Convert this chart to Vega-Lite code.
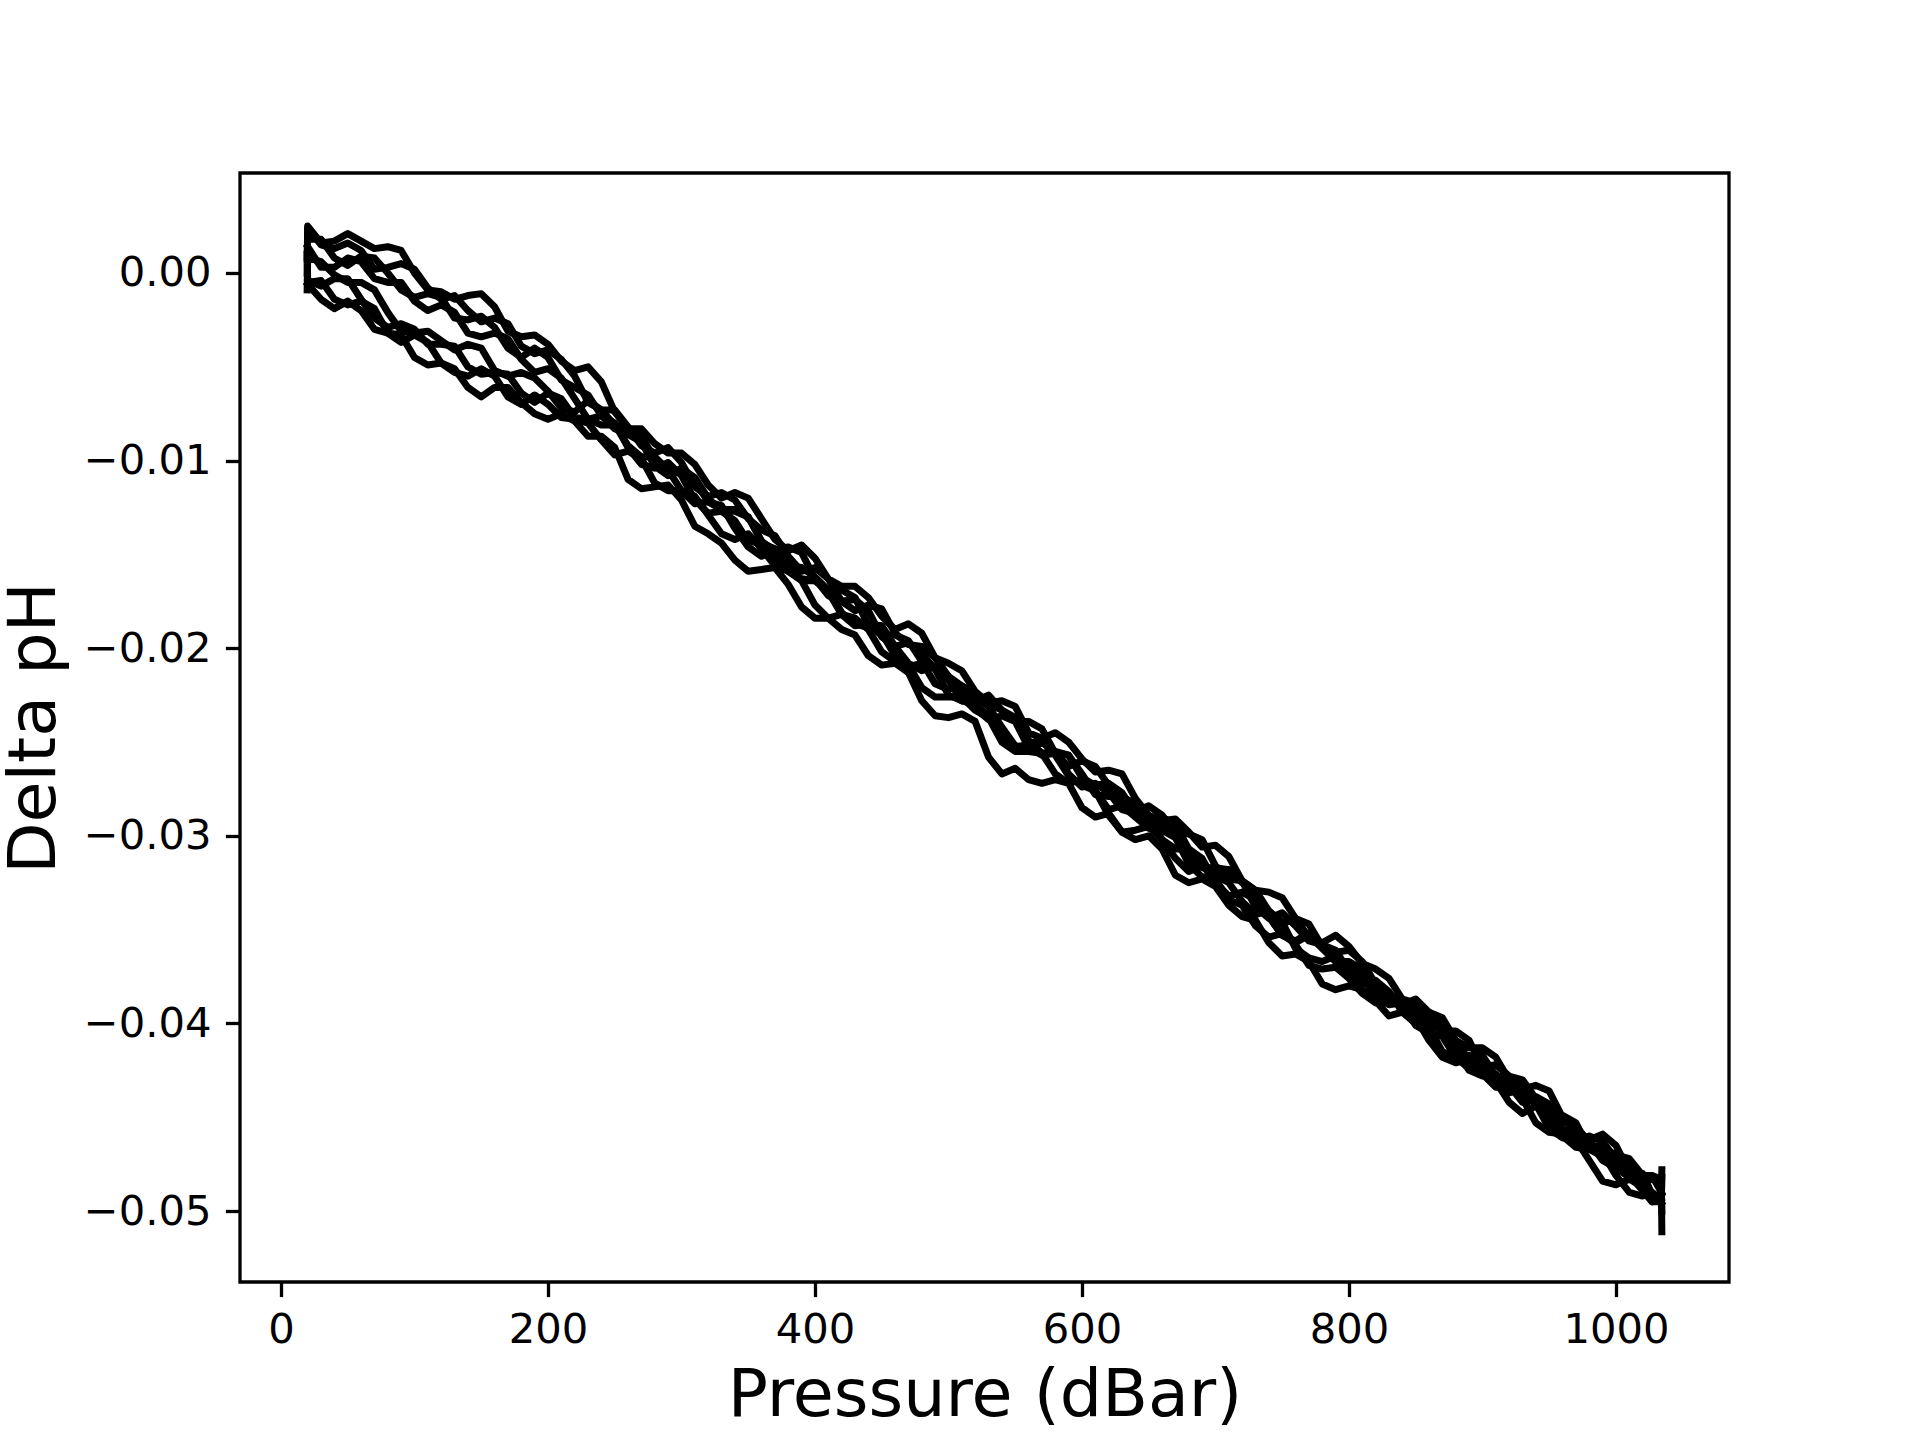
{
  "$schema": "https://vega.github.io/schema/vega-lite/v6.json",
  "width": 1489,
  "height": 1109,
  "autosize": {"type": "none"},
  "padding": {"left": 240, "top": 173, "right": 191, "bottom": 158},
  "background": "white",
  "data": {
    "values": [
      {"s":1,"p":19.6,"d":0.0},
      {"s":1,"p":20,"d":0.0025},{"s":1,"p":40,"d":0.0017},{"s":1,"p":60,"d":0.0017},{"s":1,"p":80,"d":0.0014},{"s":1,"p":100,"d":0.0},{"s":1,"p":120,"d":-0.001},{"s":1,"p":140,"d":-0.0012},{"s":1,"p":160,"d":-0.0018},{"s":1,"p":180,"d":-0.0034},{"s":1,"p":200,"d":-0.0038},{"s":1,"p":220,"d":-0.0052},{"s":1,"p":240,"d":-0.0058},{"s":1,"p":260,"d":-0.0083},{"s":1,"p":280,"d":-0.0091},{"s":1,"p":300,"d":-0.0096},{"s":1,"p":320,"d":-0.0113},{"s":1,"p":340,"d":-0.0117},{"s":1,"p":360,"d":-0.0131},{"s":1,"p":380,"d":-0.0148},{"s":1,"p":400,"d":-0.0152},{"s":1,"p":420,"d":-0.0167},{"s":1,"p":440,"d":-0.0173},{"s":1,"p":460,"d":-0.019},{"s":1,"p":480,"d":-0.0192},{"s":1,"p":500,"d":-0.0208},{"s":1,"p":520,"d":-0.0223},{"s":1,"p":540,"d":-0.0228},{"s":1,"p":560,"d":-0.0245},{"s":1,"p":580,"d":-0.0245},{"s":1,"p":600,"d":-0.0259},{"s":1,"p":620,"d":-0.0265},{"s":1,"p":640,"d":-0.028},{"s":1,"p":660,"d":-0.0292},{"s":1,"p":680,"d":-0.0298},{"s":1,"p":700,"d":-0.0305},{"s":1,"p":720,"d":-0.0324},{"s":1,"p":740,"d":-0.033},{"s":1,"p":760,"d":-0.0344},{"s":1,"p":780,"d":-0.0357},{"s":1,"p":800,"d":-0.0359},{"s":1,"p":820,"d":-0.0371},{"s":1,"p":840,"d":-0.0387},{"s":1,"p":860,"d":-0.0394},{"s":1,"p":880,"d":-0.0409},{"s":1,"p":900,"d":-0.0413},{"s":1,"p":920,"d":-0.043},{"s":1,"p":940,"d":-0.0433},{"s":1,"p":960,"d":-0.045},{"s":1,"p":980,"d":-0.0462},{"s":1,"p":1000,"d":-0.0465},{"s":1,"p":1020,"d":-0.0483},{"s":1,"p":1034,"d":-0.0483},
      {"s":1,"p":1034.4,"d":-0.0511},
      {"s":2,"p":19.6,"d":0.0008},
      {"s":2,"p":20,"d":0.0024},{"s":2,"p":40,"d":0.0013},{"s":2,"p":60,"d":0.0012},{"s":2,"p":80,"d":0.0003},{"s":2,"p":100,"d":0.0002},{"s":2,"p":120,"d":-0.0014},{"s":2,"p":140,"d":-0.002},{"s":2,"p":160,"d":-0.0024},{"s":2,"p":180,"d":-0.0039},{"s":2,"p":200,"d":-0.0041},{"s":2,"p":220,"d":-0.0055},{"s":2,"p":240,"d":-0.0073},{"s":2,"p":260,"d":-0.0082},{"s":2,"p":280,"d":-0.0096},{"s":2,"p":300,"d":-0.0101},{"s":2,"p":320,"d":-0.0119},{"s":2,"p":340,"d":-0.0121},{"s":2,"p":360,"d":-0.0137},{"s":2,"p":380,"d":-0.0151},{"s":2,"p":400,"d":-0.0157},{"s":2,"p":420,"d":-0.0175},{"s":2,"p":440,"d":-0.0177},{"s":2,"p":460,"d":-0.0192},{"s":2,"p":480,"d":-0.0199},{"s":2,"p":500,"d":-0.0215},{"s":2,"p":520,"d":-0.0228},{"s":2,"p":540,"d":-0.0233},{"s":2,"p":560,"d":-0.0239},{"s":2,"p":580,"d":-0.0256},{"s":2,"p":600,"d":-0.026},{"s":2,"p":620,"d":-0.0273},{"s":2,"p":640,"d":-0.0287},{"s":2,"p":660,"d":-0.0289},{"s":2,"p":680,"d":-0.0299},{"s":2,"p":700,"d":-0.0316},{"s":2,"p":720,"d":-0.0324},{"s":2,"p":740,"d":-0.034},{"s":2,"p":760,"d":-0.0344},{"s":2,"p":780,"d":-0.0359},{"s":2,"p":800,"d":-0.0361},{"s":2,"p":820,"d":-0.0379},{"s":2,"p":840,"d":-0.039},{"s":2,"p":860,"d":-0.0394},{"s":2,"p":880,"d":-0.0413},{"s":2,"p":900,"d":-0.0417},{"s":2,"p":920,"d":-0.0429},{"s":2,"p":940,"d":-0.0444},{"s":2,"p":960,"d":-0.0449},{"s":2,"p":980,"d":-0.0467},{"s":2,"p":1000,"d":-0.047},{"s":2,"p":1020,"d":-0.0481},{"s":2,"p":1034,"d":-0.049},
      {"s":3,"p":20,"d":0.0018},{"s":3,"p":40,"d":0.0008},{"s":3,"p":60,"d":0.0009},{"s":3,"p":80,"d":0.0},{"s":3,"p":100,"d":-0.0013},{"s":3,"p":120,"d":-0.0013},{"s":3,"p":140,"d":-0.0025},{"s":3,"p":160,"d":-0.0029},{"s":3,"p":180,"d":-0.0045},{"s":3,"p":200,"d":-0.0045},{"s":3,"p":220,"d":-0.0061},{"s":3,"p":240,"d":-0.0076},{"s":3,"p":260,"d":-0.0086},{"s":3,"p":280,"d":-0.0103},{"s":3,"p":300,"d":-0.0104},{"s":3,"p":320,"d":-0.012},{"s":3,"p":340,"d":-0.0127},{"s":3,"p":360,"d":-0.0143},{"s":3,"p":380,"d":-0.0156},{"s":3,"p":400,"d":-0.0162},{"s":3,"p":420,"d":-0.0169},{"s":3,"p":440,"d":-0.0188},{"s":3,"p":460,"d":-0.0193},{"s":3,"p":480,"d":-0.0207},{"s":3,"p":500,"d":-0.0222},{"s":3,"p":520,"d":-0.0224},{"s":3,"p":540,"d":-0.0233},{"s":3,"p":560,"d":-0.0249},{"s":3,"p":580,"d":-0.0255},{"s":3,"p":600,"d":-0.0269},{"s":3,"p":620,"d":-0.0272},{"s":3,"p":640,"d":-0.0288},{"s":3,"p":660,"d":-0.029},{"s":3,"p":680,"d":-0.0307},{"s":3,"p":700,"d":-0.0319},{"s":3,"p":720,"d":-0.0324},{"s":3,"p":740,"d":-0.0344},{"s":3,"p":760,"d":-0.0348},{"s":3,"p":780,"d":-0.0358},{"s":3,"p":800,"d":-0.0372},{"s":3,"p":820,"d":-0.0377},{"s":3,"p":840,"d":-0.0394},{"s":3,"p":860,"d":-0.0398},{"s":3,"p":880,"d":-0.041},{"s":3,"p":900,"d":-0.0423},{"s":3,"p":920,"d":-0.0428},{"s":3,"p":940,"d":-0.044},{"s":3,"p":960,"d":-0.0458},{"s":3,"p":980,"d":-0.0463},{"s":3,"p":1000,"d":-0.0469},{"s":3,"p":1020,"d":-0.0485},{"s":3,"p":1034,"d":-0.0495},
      {"s":3,"p":1034.4,"d":-0.0478},
      {"s":4,"p":20,"d":0.0014},{"s":4,"p":40,"d":0.0003},{"s":4,"p":60,"d":0.0006},{"s":4,"p":80,"d":-0.0005},{"s":4,"p":100,"d":-0.0015},{"s":4,"p":120,"d":-0.0017},{"s":4,"p":140,"d":-0.0032},{"s":4,"p":160,"d":-0.0032},{"s":4,"p":180,"d":-0.0046},{"s":4,"p":200,"d":-0.0051},{"s":4,"p":220,"d":-0.0067},{"s":4,"p":240,"d":-0.0081},{"s":4,"p":260,"d":-0.0092},{"s":4,"p":280,"d":-0.0098},{"s":4,"p":300,"d":-0.0116},{"s":4,"p":320,"d":-0.0122},{"s":4,"p":340,"d":-0.0136},{"s":4,"p":360,"d":-0.0151},{"s":4,"p":380,"d":-0.0154},{"s":4,"p":400,"d":-0.0164},{"s":4,"p":420,"d":-0.0181},{"s":4,"p":440,"d":-0.0189},{"s":4,"p":460,"d":-0.0204},{"s":4,"p":480,"d":-0.0208},{"s":4,"p":500,"d":-0.0225},{"s":4,"p":520,"d":-0.0226},{"s":4,"p":540,"d":-0.0242},{"s":4,"p":560,"d":-0.0253},{"s":4,"p":580,"d":-0.0256},{"s":4,"p":600,"d":-0.0274},{"s":4,"p":620,"d":-0.0277},{"s":4,"p":640,"d":-0.0288},{"s":4,"p":660,"d":-0.0302},{"s":4,"p":680,"d":-0.0307},{"s":4,"p":700,"d":-0.0325},{"s":4,"p":720,"d":-0.033},{"s":4,"p":740,"d":-0.0343},{"s":4,"p":760,"d":-0.0356},{"s":4,"p":780,"d":-0.0359},{"s":4,"p":800,"d":-0.037},{"s":4,"p":820,"d":-0.0386},{"s":4,"p":840,"d":-0.039},{"s":4,"p":860,"d":-0.0397},{"s":4,"p":880,"d":-0.0414},{"s":4,"p":900,"d":-0.0428},{"s":4,"p":920,"d":-0.0433},{"s":4,"p":940,"d":-0.0441},{"s":4,"p":960,"d":-0.0459},{"s":4,"p":980,"d":-0.0465},{"s":4,"p":1000,"d":-0.0477},{"s":4,"p":1020,"d":-0.048},{"s":4,"p":1034,"d":-0.0496},
      {"s":5,"p":19.6,"d":-0.0009},
      {"s":5,"p":20,"d":0.0008},{"s":5,"p":40,"d":-0.0001},{"s":5,"p":60,"d":-0.0005},{"s":5,"p":80,"d":-0.0021},{"s":5,"p":100,"d":-0.0032},{"s":5,"p":120,"d":-0.0036},{"s":5,"p":140,"d":-0.0038},{"s":5,"p":160,"d":-0.0052},{"s":5,"p":180,"d":-0.0053},{"s":5,"p":200,"d":-0.0063},{"s":5,"p":220,"d":-0.0074},{"s":5,"p":240,"d":-0.0073},{"s":5,"p":260,"d":-0.0083},{"s":5,"p":280,"d":-0.0099},{"s":5,"p":300,"d":-0.0106},{"s":5,"p":320,"d":-0.0122},{"s":5,"p":340,"d":-0.0126},{"s":5,"p":360,"d":-0.0143},{"s":5,"p":380,"d":-0.0146},{"s":5,"p":400,"d":-0.0163},{"s":5,"p":420,"d":-0.0175},{"s":5,"p":440,"d":-0.018},{"s":5,"p":460,"d":-0.0199},{"s":5,"p":480,"d":-0.0203},{"s":5,"p":500,"d":-0.0215},{"s":5,"p":520,"d":-0.0232},{"s":5,"p":540,"d":-0.0236},{"s":5,"p":560,"d":-0.0253},{"s":5,"p":580,"d":-0.0256},{"s":5,"p":600,"d":-0.0267},{"s":5,"p":620,"d":-0.0279},{"s":5,"p":640,"d":-0.0283},{"s":5,"p":660,"d":-0.0294},{"s":5,"p":680,"d":-0.0312},{"s":5,"p":700,"d":-0.0317},{"s":5,"p":720,"d":-0.0325},{"s":5,"p":740,"d":-0.0343},{"s":5,"p":760,"d":-0.0357},{"s":5,"p":780,"d":-0.036},{"s":5,"p":800,"d":-0.0367},{"s":5,"p":820,"d":-0.0382},{"s":5,"p":840,"d":-0.0387},{"s":5,"p":860,"d":-0.04},{"s":5,"p":880,"d":-0.0404},{"s":5,"p":900,"d":-0.0424},{"s":5,"p":920,"d":-0.0433},{"s":5,"p":940,"d":-0.0439},{"s":5,"p":960,"d":-0.0456},{"s":5,"p":980,"d":-0.046},{"s":5,"p":1000,"d":-0.0472},{"s":5,"p":1020,"d":-0.0487},{"s":5,"p":1034,"d":-0.0487},
      {"s":5,"p":1034.4,"d":-0.05},
      {"s":6,"p":19.6,"d":0.001},
      {"s":6,"p":20,"d":-0.0004},{"s":6,"p":40,"d":-0.0003},{"s":6,"p":60,"d":-0.0014},{"s":6,"p":80,"d":-0.0029},{"s":6,"p":100,"d":-0.003},{"s":6,"p":120,"d":-0.0038},{"s":6,"p":140,"d":-0.005},{"s":6,"p":160,"d":-0.0053},{"s":6,"p":180,"d":-0.0064},{"s":6,"p":200,"d":-0.0064},{"s":6,"p":220,"d":-0.0077},{"s":6,"p":240,"d":-0.0076},{"s":6,"p":260,"d":-0.0093},{"s":6,"p":280,"d":-0.0104},{"s":6,"p":300,"d":-0.0108},{"s":6,"p":320,"d":-0.0128},{"s":6,"p":340,"d":-0.0132},{"s":6,"p":360,"d":-0.0144},{"s":6,"p":380,"d":-0.0159},{"s":6,"p":400,"d":-0.0164},{"s":6,"p":420,"d":-0.0182},{"s":6,"p":440,"d":-0.0187},{"s":6,"p":460,"d":-0.0199},{"s":6,"p":480,"d":-0.0212},{"s":6,"p":500,"d":-0.0217},{"s":6,"p":520,"d":-0.023},{"s":6,"p":540,"d":-0.0247},{"s":6,"p":560,"d":-0.0251},{"s":6,"p":580,"d":-0.0257},{"s":6,"p":600,"d":-0.0273},{"s":6,"p":620,"d":-0.0286},{"s":6,"p":640,"d":-0.029},{"s":6,"p":660,"d":-0.0297},{"s":6,"p":680,"d":-0.0315},{"s":6,"p":700,"d":-0.0321},{"s":6,"p":720,"d":-0.0335},{"s":6,"p":740,"d":-0.034},{"s":6,"p":760,"d":-0.036},{"s":6,"p":780,"d":-0.0367},{"s":6,"p":800,"d":-0.0372},{"s":6,"p":820,"d":-0.0386},{"s":6,"p":840,"d":-0.0389},{"s":6,"p":860,"d":-0.0402},{"s":6,"p":880,"d":-0.0418},{"s":6,"p":900,"d":-0.0422},{"s":6,"p":920,"d":-0.0437},{"s":6,"p":940,"d":-0.0443},{"s":6,"p":960,"d":-0.0461},{"s":6,"p":980,"d":-0.0463},{"s":6,"p":1000,"d":-0.0477},{"s":6,"p":1020,"d":-0.0489},{"s":6,"p":1034,"d":-0.0491},
      {"s":7,"p":20,"d":-0.0005},{"s":7,"p":40,"d":-0.0014},{"s":7,"p":60,"d":-0.0015},{"s":7,"p":80,"d":-0.0032},{"s":7,"p":100,"d":-0.0033},{"s":7,"p":120,"d":-0.0048},{"s":7,"p":140,"d":-0.0055},{"s":7,"p":160,"d":-0.0055},{"s":7,"p":180,"d":-0.007},{"s":7,"p":200,"d":-0.007},{"s":7,"p":220,"d":-0.0078},{"s":7,"p":240,"d":-0.0089},{"s":7,"p":260,"d":-0.0095},{"s":7,"p":280,"d":-0.0112},{"s":7,"p":300,"d":-0.0116},{"s":7,"p":320,"d":-0.0129},{"s":7,"p":340,"d":-0.0142},{"s":7,"p":360,"d":-0.0147},{"s":7,"p":380,"d":-0.0159},{"s":7,"p":400,"d":-0.0177},{"s":7,"p":420,"d":-0.0182},{"s":7,"p":440,"d":-0.019},{"s":7,"p":460,"d":-0.0207},{"s":7,"p":480,"d":-0.0221},{"s":7,"p":500,"d":-0.0226},{"s":7,"p":520,"d":-0.0233},{"s":7,"p":540,"d":-0.025},{"s":7,"p":560,"d":-0.0255},{"s":7,"p":580,"d":-0.0267},{"s":7,"p":600,"d":-0.027},{"s":7,"p":620,"d":-0.0289},{"s":7,"p":640,"d":-0.0297},{"s":7,"p":660,"d":-0.0302},{"s":7,"p":680,"d":-0.0319},{"s":7,"p":700,"d":-0.0323},{"s":7,"p":720,"d":-0.0337},{"s":7,"p":740,"d":-0.0354},{"s":7,"p":760,"d":-0.0358},{"s":7,"p":780,"d":-0.0371},{"s":7,"p":800,"d":-0.0376},{"s":7,"p":820,"d":-0.0389},{"s":7,"p":840,"d":-0.039},{"s":7,"p":860,"d":-0.0405},{"s":7,"p":880,"d":-0.0418},{"s":7,"p":900,"d":-0.0424},{"s":7,"p":920,"d":-0.0442},{"s":7,"p":940,"d":-0.0444},{"s":7,"p":960,"d":-0.046},{"s":7,"p":980,"d":-0.0467},{"s":7,"p":1000,"d":-0.0481},{"s":7,"p":1020,"d":-0.0492},{"s":7,"p":1034,"d":-0.0494},
      {"s":7,"p":1034.4,"d":-0.0482},
      {"s":8,"p":20,"d":-0.0006},{"s":8,"p":40,"d":-0.0019},{"s":8,"p":60,"d":-0.002},{"s":8,"p":80,"d":-0.0032},{"s":8,"p":100,"d":-0.0045},{"s":8,"p":120,"d":-0.0048},{"s":8,"p":140,"d":-0.0061},{"s":8,"p":160,"d":-0.0061},{"s":8,"p":180,"d":-0.0069},{"s":8,"p":200,"d":-0.0078},{"s":8,"p":220,"d":-0.0079},{"s":8,"p":240,"d":-0.0087},{"s":8,"p":260,"d":-0.011},{"s":8,"p":280,"d":-0.0114},{"s":8,"p":300,"d":-0.0121},{"s":8,"p":320,"d":-0.0139},{"s":8,"p":340,"d":-0.0153},{"s":8,"p":360,"d":-0.0158},{"s":8,"p":380,"d":-0.0166},{"s":8,"p":400,"d":-0.0184},{"s":8,"p":420,"d":-0.019},{"s":8,"p":440,"d":-0.0204},{"s":8,"p":460,"d":-0.0208},{"s":8,"p":480,"d":-0.0228},{"s":8,"p":500,"d":-0.0237},{"s":8,"p":520,"d":-0.0239},{"s":8,"p":540,"d":-0.0267},{"s":8,"p":560,"d":-0.027},{"s":8,"p":580,"d":-0.027},{"s":8,"p":600,"d":-0.0285},{"s":8,"p":620,"d":-0.0288},{"s":8,"p":640,"d":-0.0302},{"s":8,"p":660,"d":-0.0307},{"s":8,"p":680,"d":-0.0325},{"s":8,"p":700,"d":-0.0327},{"s":8,"p":720,"d":-0.0343},{"s":8,"p":740,"d":-0.0357},{"s":8,"p":760,"d":-0.0363},{"s":8,"p":780,"d":-0.0379},{"s":8,"p":800,"d":-0.038},{"s":8,"p":820,"d":-0.0388},{"s":8,"p":840,"d":-0.0394},{"s":8,"p":860,"d":-0.0409},{"s":8,"p":880,"d":-0.0421},{"s":8,"p":900,"d":-0.0427},{"s":8,"p":920,"d":-0.0434},{"s":8,"p":940,"d":-0.0453},{"s":8,"p":960,"d":-0.0459},{"s":8,"p":980,"d":-0.0473},{"s":8,"p":1000,"d":-0.0486},{"s":8,"p":1020,"d":-0.0487},{"s":8,"p":1034,"d":-0.0493},
      {"s":1,"p":30,"d":0.0016},{"s":1,"p":50,"d":0.0021},{"s":1,"p":70,"d":0.0013},{"s":1,"p":90,"d":0.0012},{"s":1,"p":110,"d":-0.0009},{"s":1,"p":130,"d":-0.0014},{"s":1,"p":150,"d":-0.0011},{"s":1,"p":170,"d":-0.0031},{"s":1,"p":190,"d":-0.0033},{"s":1,"p":210,"d":-0.0047},{"s":1,"p":230,"d":-0.005},{"s":1,"p":250,"d":-0.0074},{"s":1,"p":270,"d":-0.0083},{"s":1,"p":290,"d":-0.0096},{"s":1,"p":310,"d":-0.0102},{"s":1,"p":330,"d":-0.012},{"s":1,"p":350,"d":-0.012},{"s":1,"p":370,"d":-0.0142},{"s":1,"p":390,"d":-0.0145},{"s":1,"p":410,"d":-0.0163},{"s":1,"p":430,"d":-0.0167},{"s":1,"p":450,"d":-0.0183},{"s":1,"p":470,"d":-0.0187},{"s":1,"p":490,"d":-0.0205},{"s":1,"p":510,"d":-0.0212},{"s":1,"p":530,"d":-0.0229},{"s":1,"p":550,"d":-0.0231},{"s":1,"p":570,"d":-0.0248},{"s":1,"p":590,"d":-0.025},{"s":1,"p":610,"d":-0.0266},{"s":1,"p":630,"d":-0.0267},{"s":1,"p":650,"d":-0.0289},{"s":1,"p":670,"d":-0.0291},{"s":1,"p":690,"d":-0.0306},{"s":1,"p":710,"d":-0.0311},{"s":1,"p":730,"d":-0.0329},{"s":1,"p":750,"d":-0.0333},{"s":1,"p":770,"d":-0.0354},{"s":1,"p":790,"d":-0.0353},{"s":1,"p":810,"d":-0.0368},{"s":1,"p":830,"d":-0.0376},{"s":1,"p":850,"d":-0.0395},{"s":1,"p":870,"d":-0.0397},{"s":1,"p":890,"d":-0.0413},{"s":1,"p":910,"d":-0.0418},{"s":1,"p":930,"d":-0.0435},{"s":1,"p":950,"d":-0.0436},{"s":1,"p":970,"d":-0.0459},{"s":1,"p":990,"d":-0.0459},{"s":1,"p":1010,"d":-0.0479},{"s":1,"p":1027,"d":-0.0481},
      {"s":2,"p":30,"d":0.0015},{"s":2,"p":50,"d":0.0016},{"s":2,"p":70,"d":0.0002},{"s":2,"p":90,"d":0.0005},{"s":2,"p":110,"d":-0.0008},{"s":2,"p":130,"d":-0.0012},{"s":2,"p":150,"d":-0.0026},{"s":2,"p":170,"d":-0.0027},{"s":2,"p":190,"d":-0.0043},{"s":2,"p":210,"d":-0.0046},{"s":2,"p":230,"d":-0.0069},{"s":2,"p":250,"d":-0.0073},{"s":2,"p":270,"d":-0.0092},{"s":2,"p":290,"d":-0.0093},{"s":2,"p":310,"d":-0.0114},{"s":2,"p":330,"d":-0.0117},{"s":2,"p":350,"d":-0.0131},{"s":2,"p":370,"d":-0.014},{"s":2,"p":390,"d":-0.0159},{"s":2,"p":410,"d":-0.0163},{"s":2,"p":430,"d":-0.018},{"s":2,"p":450,"d":-0.0179},{"s":2,"p":470,"d":-0.0198},{"s":2,"p":490,"d":-0.0205},{"s":2,"p":510,"d":-0.0225},{"s":2,"p":530,"d":-0.0225},{"s":2,"p":550,"d":-0.0239},{"s":2,"p":570,"d":-0.0243},{"s":2,"p":590,"d":-0.0263},{"s":2,"p":610,"d":-0.0263},{"s":2,"p":630,"d":-0.0282},{"s":2,"p":650,"d":-0.0284},{"s":2,"p":670,"d":-0.0298},{"s":2,"p":690,"d":-0.0302},{"s":2,"p":710,"d":-0.0323},{"s":2,"p":730,"d":-0.0329},{"s":2,"p":750,"d":-0.0347},{"s":2,"p":770,"d":-0.0347},{"s":2,"p":790,"d":-0.0362},{"s":2,"p":810,"d":-0.0367},{"s":2,"p":830,"d":-0.0388},{"s":2,"p":850,"d":-0.0387},{"s":2,"p":870,"d":-0.0406},{"s":2,"p":890,"d":-0.0411},{"s":2,"p":910,"d":-0.0428},{"s":2,"p":930,"d":-0.0434},{"s":2,"p":950,"d":-0.045},{"s":2,"p":970,"d":-0.0453},{"s":2,"p":990,"d":-0.0471},{"s":2,"p":1010,"d":-0.0472},{"s":2,"p":1027,"d":-0.0481},
      {"s":3,"p":30,"d":0.0018},{"s":3,"p":50,"d":0.0004},{"s":3,"p":70,"d":0.0008},{"s":3,"p":90,"d":-0.0009},{"s":3,"p":110,"d":-0.0011},{"s":3,"p":130,"d":-0.0024},{"s":3,"p":150,"d":-0.0023},{"s":3,"p":170,"d":-0.004},{"s":3,"p":190,"d":-0.004},{"s":3,"p":210,"d":-0.0057},{"s":3,"p":230,"d":-0.0065},{"s":3,"p":250,"d":-0.0083},{"s":3,"p":270,"d":-0.009},{"s":3,"p":290,"d":-0.0108},{"s":3,"p":310,"d":-0.0109},{"s":3,"p":330,"d":-0.0127},{"s":3,"p":350,"d":-0.013},{"s":3,"p":370,"d":-0.0152},{"s":3,"p":390,"d":-0.0157},{"s":3,"p":410,"d":-0.0169},{"s":3,"p":430,"d":-0.0173},{"s":3,"p":450,"d":-0.0193},{"s":3,"p":470,"d":-0.0196},{"s":3,"p":490,"d":-0.0219},{"s":3,"p":510,"d":-0.022},{"s":3,"p":530,"d":-0.023},{"s":3,"p":550,"d":-0.0237},{"s":3,"p":570,"d":-0.0256},{"s":3,"p":590,"d":-0.0257},{"s":3,"p":610,"d":-0.0273},{"s":3,"p":630,"d":-0.0277},{"s":3,"p":650,"d":-0.0294},{"s":3,"p":670,"d":-0.0294},{"s":3,"p":690,"d":-0.0315},{"s":3,"p":710,"d":-0.0318},{"s":3,"p":730,"d":-0.0338},{"s":3,"p":750,"d":-0.0341},{"s":3,"p":770,"d":-0.0356},{"s":3,"p":790,"d":-0.0361},{"s":3,"p":810,"d":-0.0379},{"s":3,"p":830,"d":-0.0383},{"s":3,"p":850,"d":-0.04},{"s":3,"p":870,"d":-0.0399},{"s":3,"p":890,"d":-0.0419},{"s":3,"p":910,"d":-0.0422},{"s":3,"p":930,"d":-0.043},{"s":3,"p":950,"d":-0.0452},{"s":3,"p":970,"d":-0.0455},{"s":3,"p":990,"d":-0.047},{"s":3,"p":1010,"d":-0.0474},{"s":3,"p":1027,"d":-0.0495},
      {"s":4,"p":30,"d":0.0003},{"s":4,"p":50,"d":0.0008},{"s":4,"p":70,"d":-0.0003},{"s":4,"p":90,"d":-0.0005},{"s":4,"p":110,"d":-0.002},{"s":4,"p":130,"d":-0.0021},{"s":4,"p":150,"d":-0.0034},{"s":4,"p":170,"d":-0.0035},{"s":4,"p":190,"d":-0.0053},{"s":4,"p":210,"d":-0.0056},{"s":4,"p":230,"d":-0.0078},{"s":4,"p":250,"d":-0.0081},{"s":4,"p":270,"d":-0.0098},{"s":4,"p":290,"d":-0.0105},{"s":4,"p":310,"d":-0.0123},{"s":4,"p":330,"d":-0.0124},{"s":4,"p":350,"d":-0.0146},{"s":4,"p":370,"d":-0.0148},{"s":4,"p":390,"d":-0.0164},{"s":4,"p":410,"d":-0.0169},{"s":4,"p":430,"d":-0.0187},{"s":4,"p":450,"d":-0.0192},{"s":4,"p":470,"d":-0.021},{"s":4,"p":490,"d":-0.0211},{"s":4,"p":510,"d":-0.0228},{"s":4,"p":530,"d":-0.0231},{"s":4,"p":550,"d":-0.0252},{"s":4,"p":570,"d":-0.025},{"s":4,"p":590,"d":-0.0267},{"s":4,"p":610,"d":-0.0272},{"s":4,"p":630,"d":-0.0286},{"s":4,"p":650,"d":-0.029},{"s":4,"p":670,"d":-0.0307},{"s":4,"p":690,"d":-0.0312},{"s":4,"p":710,"d":-0.0332},{"s":4,"p":730,"d":-0.0334},{"s":4,"p":750,"d":-0.0353},{"s":4,"p":770,"d":-0.0352},{"s":4,"p":790,"d":-0.0367},{"s":4,"p":810,"d":-0.0375},{"s":4,"p":830,"d":-0.0384},{"s":4,"p":850,"d":-0.0396},{"s":4,"p":870,"d":-0.04},{"s":4,"p":890,"d":-0.0425},{"s":4,"p":910,"d":-0.0427},{"s":4,"p":930,"d":-0.0442},{"s":4,"p":950,"d":-0.0446},{"s":4,"p":970,"d":-0.0464},{"s":4,"p":990,"d":-0.0466},{"s":4,"p":1010,"d":-0.0482},{"s":4,"p":1027,"d":-0.0491},
      {"s":5,"p":30,"d":0.0006},{"s":5,"p":50,"d":-0.0005},{"s":5,"p":70,"d":-0.0009},{"s":5,"p":90,"d":-0.0031},{"s":5,"p":110,"d":-0.0031},{"s":5,"p":130,"d":-0.0041},{"s":5,"p":150,"d":-0.004},{"s":5,"p":170,"d":-0.0055},{"s":5,"p":190,"d":-0.0056},{"s":5,"p":210,"d":-0.0072},{"s":5,"p":230,"d":-0.0068},{"s":5,"p":250,"d":-0.0081},{"s":5,"p":270,"d":-0.0087},{"s":5,"p":290,"d":-0.0107},{"s":5,"p":310,"d":-0.0111},{"s":5,"p":330,"d":-0.0126},{"s":5,"p":350,"d":-0.013},{"s":5,"p":370,"d":-0.0148},{"s":5,"p":390,"d":-0.0149},{"s":5,"p":410,"d":-0.0172},{"s":5,"p":430,"d":-0.0174},{"s":5,"p":450,"d":-0.0194},{"s":5,"p":470,"d":-0.0197},{"s":5,"p":490,"d":-0.0211},{"s":5,"p":510,"d":-0.022},{"s":5,"p":530,"d":-0.0238},{"s":5,"p":550,"d":-0.0239},{"s":5,"p":570,"d":-0.0257},{"s":5,"p":590,"d":-0.0257},{"s":5,"p":610,"d":-0.0278},{"s":5,"p":630,"d":-0.0279},{"s":5,"p":650,"d":-0.0292},{"s":5,"p":670,"d":-0.0298},{"s":5,"p":690,"d":-0.0317},{"s":5,"p":710,"d":-0.0318},{"s":5,"p":730,"d":-0.033},{"s":5,"p":750,"d":-0.0353},{"s":5,"p":770,"d":-0.0353},{"s":5,"p":790,"d":-0.0367},{"s":5,"p":810,"d":-0.0371},{"s":5,"p":830,"d":-0.0389},{"s":5,"p":850,"d":-0.0389},{"s":5,"p":870,"d":-0.0404},{"s":5,"p":890,"d":-0.0409},{"s":5,"p":910,"d":-0.0432},{"s":5,"p":930,"d":-0.0439},{"s":5,"p":950,"d":-0.0443},{"s":5,"p":970,"d":-0.0463},{"s":5,"p":990,"d":-0.0463},{"s":5,"p":1010,"d":-0.0481},{"s":5,"p":1027,"d":-0.0482},
      {"s":6,"p":30,"d":-0.0007},{"s":6,"p":50,"d":-0.0003},{"s":6,"p":70,"d":-0.0024},{"s":6,"p":90,"d":-0.0027},{"s":6,"p":110,"d":-0.0038},{"s":6,"p":130,"d":-0.0039},{"s":6,"p":150,"d":-0.0054},{"s":6,"p":170,"d":-0.0054},{"s":6,"p":190,"d":-0.0069},{"s":6,"p":210,"d":-0.0067},{"s":6,"p":230,"d":-0.0078},{"s":6,"p":250,"d":-0.008},{"s":6,"p":270,"d":-0.0102},{"s":6,"p":290,"d":-0.0101},{"s":6,"p":310,"d":-0.0121},{"s":6,"p":330,"d":-0.0127},{"s":6,"p":350,"d":-0.0143},{"s":6,"p":370,"d":-0.0147},{"s":6,"p":390,"d":-0.0163},{"s":6,"p":410,"d":-0.017},{"s":6,"p":430,"d":-0.0188},{"s":6,"p":450,"d":-0.0188},{"s":6,"p":470,"d":-0.0208},{"s":6,"p":490,"d":-0.021},{"s":6,"p":510,"d":-0.0228},{"s":6,"p":530,"d":-0.0236},{"s":6,"p":550,"d":-0.0253},{"s":6,"p":570,"d":-0.0249},{"s":6,"p":590,"d":-0.0268},{"s":6,"p":610,"d":-0.0276},{"s":6,"p":630,"d":-0.0284},{"s":6,"p":650,"d":-0.0296},{"s":6,"p":670,"d":-0.0301},{"s":6,"p":690,"d":-0.0322},{"s":6,"p":710,"d":-0.0325},{"s":6,"p":730,"d":-0.0342},{"s":6,"p":750,"d":-0.0346},{"s":6,"p":770,"d":-0.0365},{"s":6,"p":790,"d":-0.0364},{"s":6,"p":810,"d":-0.0383},{"s":6,"p":830,"d":-0.039},{"s":6,"p":850,"d":-0.0391},{"s":6,"p":870,"d":-0.0415},{"s":6,"p":890,"d":-0.0417},{"s":6,"p":910,"d":-0.0431},{"s":6,"p":930,"d":-0.0435},{"s":6,"p":950,"d":-0.0456},{"s":6,"p":970,"d":-0.0458},{"s":6,"p":990,"d":-0.0473},{"s":6,"p":1010,"d":-0.0481},{"s":6,"p":1027,"d":-0.0495},
      {"s":7,"p":30,"d":-0.0004},{"s":7,"p":50,"d":-0.0017},{"s":7,"p":70,"d":-0.0019},{"s":7,"p":90,"d":-0.0037},{"s":7,"p":110,"d":-0.0037},{"s":7,"p":130,"d":-0.0053},{"s":7,"p":150,"d":-0.0051},{"s":7,"p":170,"d":-0.0066},{"s":7,"p":190,"d":-0.0065},{"s":7,"p":210,"d":-0.0077},{"s":7,"p":230,"d":-0.008},{"s":7,"p":250,"d":-0.0097},{"s":7,"p":270,"d":-0.0099},{"s":7,"p":290,"d":-0.0116},{"s":7,"p":310,"d":-0.0119},{"s":7,"p":330,"d":-0.0139},{"s":7,"p":350,"d":-0.0139},{"s":7,"p":370,"d":-0.0156},{"s":7,"p":390,"d":-0.0164},{"s":7,"p":410,"d":-0.0184},{"s":7,"p":430,"d":-0.0184},{"s":7,"p":450,"d":-0.0202},{"s":7,"p":470,"d":-0.0209},{"s":7,"p":490,"d":-0.0226},{"s":7,"p":510,"d":-0.0226},{"s":7,"p":530,"d":-0.0237},{"s":7,"p":550,"d":-0.0255},{"s":7,"p":570,"d":-0.0256},{"s":7,"p":590,"d":-0.0272},{"s":7,"p":610,"d":-0.0276},{"s":7,"p":630,"d":-0.0298},{"s":7,"p":650,"d":-0.0295},{"s":7,"p":670,"d":-0.0312},{"s":7,"p":690,"d":-0.0316},{"s":7,"p":710,"d":-0.0334},{"s":7,"p":730,"d":-0.0348},{"s":7,"p":750,"d":-0.0352},{"s":7,"p":770,"d":-0.0369},{"s":7,"p":790,"d":-0.037},{"s":7,"p":810,"d":-0.0384},{"s":7,"p":830,"d":-0.0384},{"s":7,"p":850,"d":-0.0401},{"s":7,"p":870,"d":-0.0407},{"s":7,"p":890,"d":-0.0424},{"s":7,"p":910,"d":-0.0431},{"s":7,"p":930,"d":-0.0448},{"s":7,"p":950,"d":-0.0448},{"s":7,"p":970,"d":-0.0466},{"s":7,"p":990,"d":-0.0469},{"s":7,"p":1010,"d":-0.049},{"s":7,"p":1027,"d":-0.049},
      {"s":8,"p":30,"d":-0.0014},{"s":8,"p":50,"d":-0.0015},{"s":8,"p":70,"d":-0.003},{"s":8,"p":90,"d":-0.0033},{"s":8,"p":110,"d":-0.0049},{"s":8,"p":130,"d":-0.0051},{"s":8,"p":150,"d":-0.0066},{"s":8,"p":170,"d":-0.0061},{"s":8,"p":190,"d":-0.0075},{"s":8,"p":210,"d":-0.0075},{"s":8,"p":230,"d":-0.0087},{"s":8,"p":250,"d":-0.0093},{"s":8,"p":270,"d":-0.0115},{"s":8,"p":290,"d":-0.0113},{"s":8,"p":310,"d":-0.0135},{"s":8,"p":330,"d":-0.0144},{"s":8,"p":350,"d":-0.0159},{"s":8,"p":370,"d":-0.0157},{"s":8,"p":390,"d":-0.0178},{"s":8,"p":410,"d":-0.0184},{"s":8,"p":430,"d":-0.0193},{"s":8,"p":450,"d":-0.0209},{"s":8,"p":470,"d":-0.0213},{"s":8,"p":490,"d":-0.0236},{"s":8,"p":510,"d":-0.0235},{"s":8,"p":530,"d":-0.0258},{"s":8,"p":550,"d":-0.0264},{"s":8,"p":570,"d":-0.0272},{"s":8,"p":590,"d":-0.0272},{"s":8,"p":610,"d":-0.029},{"s":8,"p":630,"d":-0.0298},{"s":8,"p":650,"d":-0.03},{"s":8,"p":670,"d":-0.0321},{"s":8,"p":690,"d":-0.0323},{"s":8,"p":710,"d":-0.0337},{"s":8,"p":730,"d":-0.0345},{"s":8,"p":750,"d":-0.0364},{"s":8,"p":770,"d":-0.0367},{"s":8,"p":790,"d":-0.0382},{"s":8,"p":810,"d":-0.0382},{"s":8,"p":830,"d":-0.0396},{"s":8,"p":850,"d":-0.0397},{"s":8,"p":870,"d":-0.0418},{"s":8,"p":890,"d":-0.0419},{"s":8,"p":910,"d":-0.0434},{"s":8,"p":930,"d":-0.044},{"s":8,"p":950,"d":-0.0458},{"s":8,"p":970,"d":-0.0462},{"s":8,"p":990,"d":-0.0484},{"s":8,"p":1010,"d":-0.0483},{"s":8,"p":1027,"d":-0.0494}
    ]
  },
  "mark": {
    "type": "line",
    "color": "black",
    "strokeWidth": 7,
    "strokeJoin": "round",
    "strokeCap": "square",
    "clip": true
  },
  "encoding": {
    "detail": {"field": "s", "type": "nominal"},
    "x": {
      "field": "p",
      "type": "quantitative",
      "title": "Pressure (dBar)",
      "scale": {"domain": [-30.7, 1084.7], "nice": false, "zero": false},
      "axis": {"values": [0, 200, 400, 600, 800, 1000], "format": "d", "labelPadding": 13, "titlePadding": 11}
    },
    "y": {
      "field": "d",
      "type": "quantitative",
      "title": "Delta pH",
      "scale": {"domain": [-0.05378, 0.00533], "nice": false, "zero": false},
      "axis": {"values": [0, -0.01, -0.02, -0.03, -0.04, -0.05], "format": ".2f", "labelPadding": 14.4, "titlePadding": 15}
    }
  },
  "config": {
    "view": {"stroke": "black", "strokeWidth": 3.3, "fill": "white"},
    "axis": {
      "grid": false,
      "domain": false,
      "ticks": true,
      "tickColor": "black",
      "tickWidth": 3.3,
      "tickSize": 14.6,
      "labelFont": "DejaVu Sans",
      "labelFontSize": 41.7,
      "labelColor": "black",
      "labelFlush": false,
      "labelOverlap": false,
      "titleFont": "DejaVu Sans",
      "titleFontSize": 66.7,
      "titleFontWeight": "normal",
      "titleColor": "black"
    }
  }
}
